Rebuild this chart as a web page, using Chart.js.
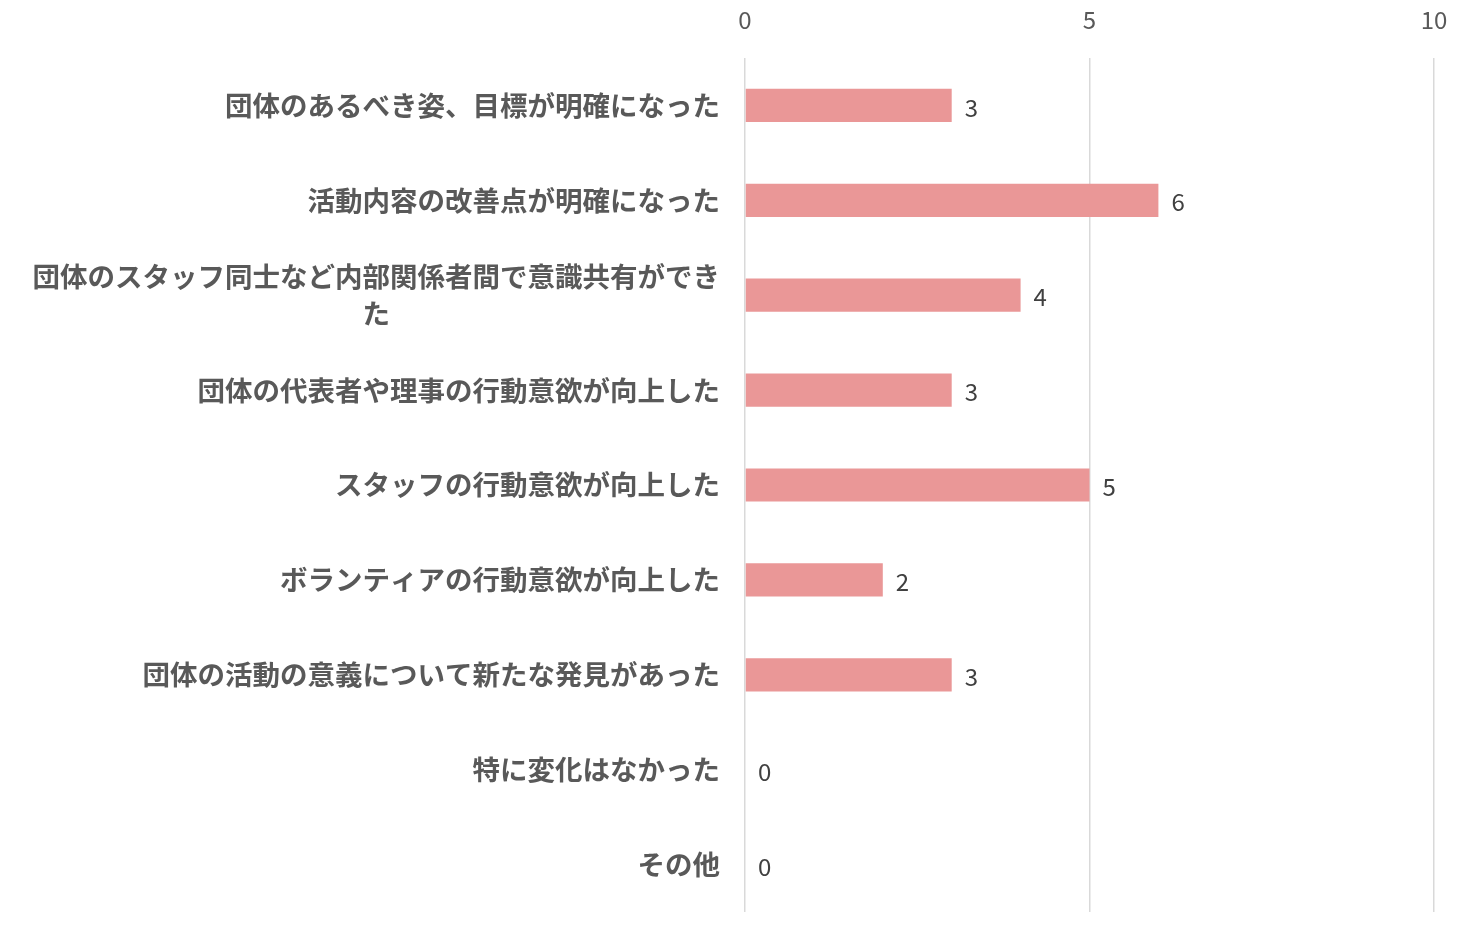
<!DOCTYPE html>
<html>
<head>
<meta charset="utf-8">
<script src="https://cdn.jsdelivr.net/npm/chart.js@4"></script>
<style>
  html, body { margin: 0; padding: 0; background: #fff; }
  #wrap { width: 1467px; height: 927px; }
</style>
</head>
<body>
<div id="wrap"><canvas id="canvas"></canvas></div>
<script>
const categories = [
  '団体のあるべき姿、目標が明確になった',
  '活動内容の改善点が明確になった',
  ['団体のスタッフ同士など内部関係者間で意識共有ができ', 'た　　　　　　　　　　　　'],
  '団体の代表者や理事の行動意欲が向上した',
  'スタッフの行動意欲が向上した',
  'ボランティアの行動意欲が向上した',
  '団体の活動の意義について新たな発見があった',
  '特に変化はなかった',
  'その他'
];
const counts = [3, 6, 4, 3, 5, 2, 3, 0, 0];
const xTicks = [0, 5, 10];

const jpFont = '"Noto Sans CJK JP", "Noto Sans", sans-serif';

// simple value labels drawn right of each bar
const valueLabels = {
  id: 'valueLabels',
  afterDatasetsDraw(chart) {
    const c = chart.ctx;
    const meta = chart.getDatasetMeta(0);
    c.save();
    c.font = '24px ' + jpFont;
    c.fillStyle = '#404040';
    c.textAlign = 'left';
    c.textBaseline = 'middle';
    meta.data.forEach((bar, i) => {
      c.fillText(String(counts[i]), bar.x + 13, bar.y + 2);
    });
    c.restore();
  }
};

const ctx = document.getElementById('canvas');
new Chart(ctx, {
  type: 'bar',
  data: {
    labels: categories,
    datasets: [{
      data: counts,
      backgroundColor: '#EA9797',
      borderWidth: 0,
      barPercentage: 0.35,
      categoryPercentage: 1.0
    }]
  },
  options: {
    indexAxis: 'y',
    responsive: true,
    maintainAspectRatio: false,
    animation: false,
    layout: { padding: { top: 0, right: 33, bottom: 15, left: 0 } },
    plugins: {
      legend: { display: false },
      tooltip: { enabled: false }
    },
    scales: {
      x: {
        position: 'top',
        min: 0,
        max: 10,
        afterBuildTicks(scale) { scale.ticks = xTicks.map(v => ({ value: v })); },
        afterFit(scale) {
          scale.height = 58;
          scale.paddingLeft = 0;
          scale.paddingRight = 0;
        },
        grid: { color: '#D9D9D9', lineWidth: 1.5, drawTicks: false },
        border: { display: false },
        ticks: {
          padding: 24,
          color: '#595959',
          font: { family: jpFont, size: 24 }
        }
      },
      y: {
        afterFit(scale) {
          scale.width = 745;
          scale.paddingTop = 0;
          scale.paddingBottom = 0;
        },
        grid: { display: false, drawTicks: false },
        border: { display: false },
        ticks: {
          padding: 25,
          color: '#595959',
          font: { family: jpFont, size: 27.5, weight: 'bold', lineHeight: 1.35 }
        }
      }
    }
  },
  plugins: [valueLabels]
});
</script>
</body>
</html>
